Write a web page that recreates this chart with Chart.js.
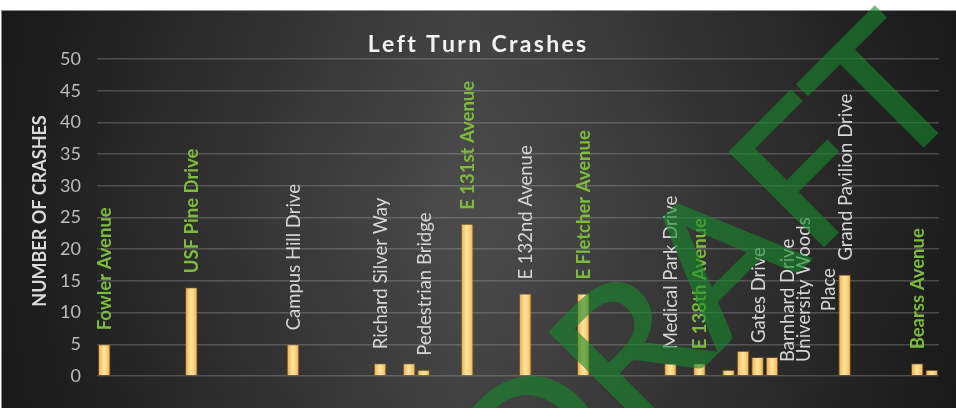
<!DOCTYPE html>
<html>
<head>
<meta charset="utf-8">
<title>Left Turn Crashes</title>
<script src="https://cdn.jsdelivr.net/npm/chart.js@4.4.1/dist/chart.umd.min.js"></script>
<style>
  html, body { margin: 0; padding: 0; background: #ffffff; }
  #crashChart { display: block; }
</style>
</head>
<body>
<canvas id="crashChart" width="956" height="408"></canvas>
<script>
// crashes per location slot along the corridor, west to east
const crashes = [
    5, 0, 0, 0, 0, 0, 14, 0, 0, 0,
    0, 0, 0, 5, 0, 0, 0, 0, 0, 2,
    0, 2, 1, 0, 0, 24, 0, 0, 0, 13,
    0, 0, 0, 13, 0, 0, 0, 0, 0, 2,
    0, 2, 0, 1, 4, 3, 3, 0, 0, 0,
    0, 16, 0, 0, 0, 0, 2, 1
];

// named cross streets and which slot they sit over
const labelSlots = [0, 6, 13, 19, 22, 25, 29, 33, 39, 41, 45, 47, 49, 51, 56];
const labelTexts = [
    'Fowler Avenue', 'USF Pine Drive', 'Campus Hill Drive', 'Richard Silver Way',
    'Pedestrian Bridge', 'E 131st Avenue', 'E 132nd Avenue', 'E Fletcher Avenue',
    'Medical Park Drive', 'E 138th Avenue', 'Gates Drive', 'Barnhard Drive',
    ['University Woods', 'Place'], 'Grand Pavilion Drive', 'Bearss Avenue'
];
const majorRoad = [true, true, false, false, false, true, false, true,
    false, true, false, false, false, false, true];

const yTicks = [0, 5, 10, 15, 20, 25, 30, 35, 40, 45, 50];

const categories = crashes.map((_, i) => {
    const k = labelSlots.indexOf(i);
    if (k < 0) return '';
    const t = labelTexts[k];
    return Array.isArray(t) ? t.join(' ') : t;
});

const FONT = "Lato, 'Open Sans', sans-serif";

const panelBackground = {
    id: 'panelBackground',
    beforeDraw(chart) {
        const ctx = chart.ctx;
        const w = chart.width, h = chart.height;
        ctx.save();
        ctx.fillStyle = '#ffffff';
        ctx.fillRect(0, 0, w, h);
        const g = ctx.createLinearGradient(0, 0, w, 0);
        g.addColorStop(0, '#1b1b1b');
        g.addColorStop(0.48, '#4b4b4b');
        g.addColorStop(0.56, '#474747');
        g.addColorStop(1, '#1c1c1c');
        ctx.fillStyle = g;
        ctx.fillRect(2, 10, w - 2, h - 10);
        const v = ctx.createLinearGradient(0, 10, 0, h);
        v.addColorStop(0, 'rgba(0,0,0,0.12)');
        v.addColorStop(0.5, 'rgba(0,0,0,0)');
        v.addColorStop(1, 'rgba(0,0,0,0.12)');
        ctx.fillStyle = v;
        ctx.fillRect(2, 10, w - 2, h - 10);
        ctx.strokeStyle = '#8e8e8e';
        ctx.lineWidth = 1;
        ctx.beginPath();
        ctx.moveTo(1.5, h);
        ctx.lineTo(1.5, 10.5);
        ctx.lineTo(w, 10.5);
        ctx.stroke();

        // chart title, letter spaced
        ctx.font = 'bold 23px ' + FONT;
        ctx.fillStyle = '#f2f2f2';
        ctx.textBaseline = 'alphabetic';
        const title = 'Left Turn Crashes';
        const spacing = 2.3;
        let tw = 0;
        for (const ch of title) tw += ctx.measureText(ch).width + spacing;
        tw -= spacing;
        let x = 477 - tw / 2;
        for (const ch of title) {
            ctx.fillText(ch, x, 52);
            x += ctx.measureText(ch).width + spacing;
        }

        // y axis title
        ctx.translate(40, 211);
        ctx.rotate(-Math.PI / 2);
        ctx.font = 'bold 18px ' + FONT;
        ctx.fillStyle = '#d9d9d9';
        ctx.textAlign = 'center';
        ctx.textBaseline = 'middle';
        ctx.fillText('NUMBER OF CRASHES', 0, 0);
        ctx.restore();
    }
};

const streetLabels = {
    id: 'streetLabels',
    afterDatasetsDraw(chart) {
        const ctx = chart.ctx;
        const meta = chart.getDatasetMeta(0);
        ctx.save();
        labelSlots.forEach((slot, k) => {
            const bar = meta.data[slot];
            const lines = [].concat(labelTexts[k]);
            ctx.save();
            ctx.translate(bar.x + 1, bar.y - 14);
            ctx.rotate(-Math.PI / 2);
            ctx.font = (majorRoad[k] ? 'bold ' : '') + '18.5px ' + FONT;
            ctx.fillStyle = majorRoad[k] ? '#7dbb3c' : '#d6d6d6';
            ctx.textAlign = lines.length > 1 ? 'center' : 'left';
            ctx.textBaseline = 'middle';
            if (lines.length > 1) {
                // wrapped label: lines centred on a common mid point
                const widest = Math.max(...lines.map(l => ctx.measureText(l).width));
                lines.forEach((l, i) => {
                    ctx.fillText(l, widest / 2, (i - (lines.length - 1) / 2) * 25);
                });
            } else {
                ctx.fillText(lines[0], 0, 0);
            }
            ctx.restore();
        });
        ctx.restore();
    }
};

const draftMark = {
    id: 'draftMark',
    afterDraw(chart) {
        const off = document.createElement('canvas');
        off.width = chart.width;
        off.height = chart.height;
        const o = off.getContext('2d');
        o.translate(971, 99);
        o.rotate(-Math.PI / 4);
        o.font = '186px ' + FONT;
        const raft = o.measureText('RAFT').width;
        o.scale(480 / raft, 1);
        o.textAlign = 'right';
        o.textBaseline = 'alphabetic';
        o.fillStyle = '#178a2a';
        o.strokeStyle = '#178a2a';
        o.lineWidth = 2;
        o.fillText('DRAFT', 0, 0);
        o.strokeText('DRAFT', 0, 0);
        const ctx = chart.ctx;
        ctx.save();
        ctx.globalAlpha = 0.6;
        ctx.drawImage(off, 0, 0);
        ctx.restore();
    }
};

function barFill(c) {
    const chart = c.chart;
    if (!chart.chartArea || !chart.scales.x) return '#f8cf78';
    const x = chart.scales.x.getPixelForValue(c.dataIndex);
    const half = 6.5;
    const g = chart.ctx.createLinearGradient(x - half, 0, x + half, 0);
    g.addColorStop(0, '#eaa645');
    g.addColorStop(0.45, '#ffe39a');
    g.addColorStop(0.6, '#ffdd8e');
    g.addColorStop(1, '#eca946');
    return g;
}

const ctx = document.getElementById('crashChart').getContext('2d');
const crashChart = new Chart(ctx, {
    type: 'bar',
    data: {
        labels: categories,
        datasets: [{
            label: 'Left Turn Crashes',
            data: crashes,
            backgroundColor: barFill,
            borderColor: 'rgba(150,100,30,0.5)',
            borderWidth: 1,
            barPercentage: 0.87,
            categoryPercentage: 1
        }]
    },
    options: {
        responsive: false,
        animation: false,
        devicePixelRatio: 1,
        layout: {
            padding: { left: 0, right: 17, top: 59, bottom: 32 }
        },
        plugins: {
            legend: { display: false },
            title: { display: false },
            tooltip: { enabled: false }
        },
        scales: {
            x: {
                display: false
            },
            y: {
                min: 0,
                max: 50,
                afterBuildTicks(scale) {
                    scale.ticks = yTicks.map(v => ({ value: v }));
                },
                afterFit(scale) {
                    scale.width = 97;
                },
                border: { display: false },
                grid: {
                    color: 'rgba(190,190,190,0.28)',
                    lineWidth: 1.5,
                    drawTicks: false
                },
                ticks: {
                    color: '#bdbdbd',
                    padding: 16,
                    font: { family: FONT, size: 18 }
                }
            }
        }
    },
    plugins: [panelBackground, streetLabels, draftMark]
});
</script>
</body>
</html>
